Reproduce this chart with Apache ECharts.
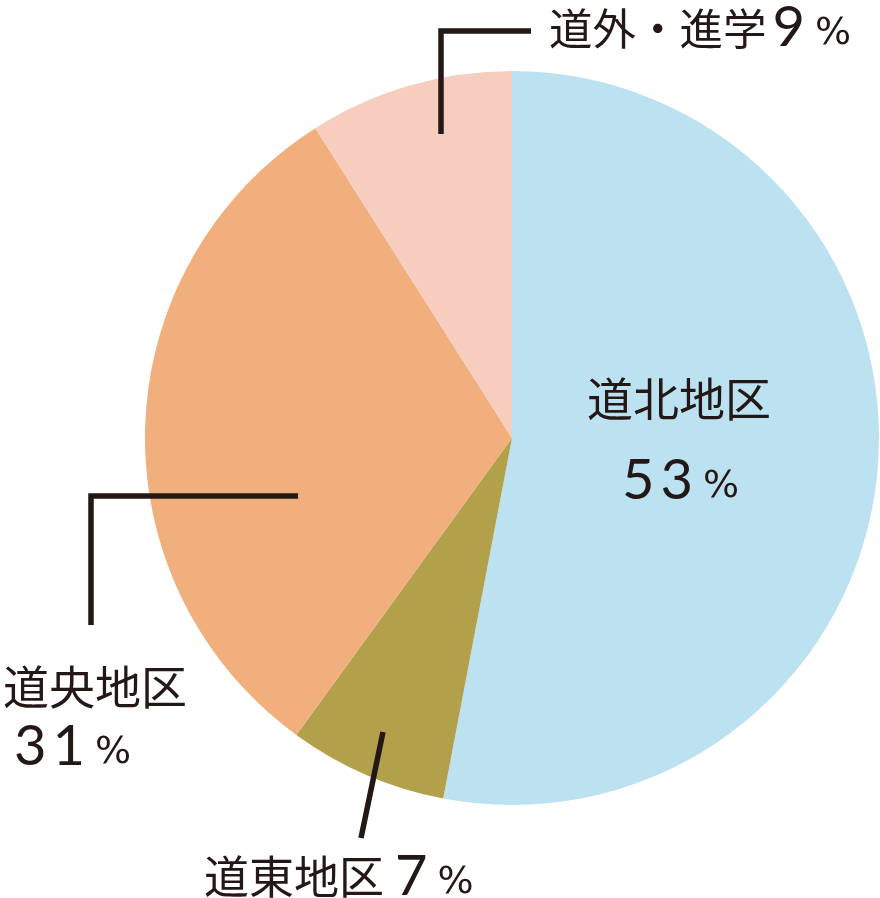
<!DOCTYPE html>
<html>
<head>
<meta charset="utf-8">
<script src="https://cdn.jsdelivr.net/npm/echarts@6/dist/echarts.min.js"></script>
<style>
html,body{margin:0;padding:0;background:#fff;}
#chart{width:880px;height:898px;}
</style>
</head>
<body>
<div id="chart"></div>
<script>
// ---- data ----
const categories = ['道北地区', '道東地区', '道央地区', '道外・進学'];
const values = [53, 7, 31, 9];
const sliceColors = ['#BCE2F2', '#B3A04B', '#F2AF7E', '#F7CDBF'];

const TEXT = '#231815';
const CJK = '"Noto Sans CJK JP", sans-serif';
const NUM = 'Lato, "Noto Sans", sans-serif';
const PCT = '"DejaVu Sans", sans-serif';

const chart = echarts.init(document.getElementById('chart'), null, {renderer: 'canvas'});

// label placement (annotation layout), per data index
const labelPlace = [
  {x: 679, y: 440, align: 'center', line: null, pos: 'inside', lh: 82, fs: 46, gap: 3},
  {x: 204, y: 877, align: 'left', line: [[383, 732], [372, 785], [361, 838]], pos: 'outside', lh: 70, fs: 45, gap: 8},
  {x: 3, y: 717, align: 'left', line: [[298, 496], [91, 496], [91, 625]], pos: 'outside', lh: 60, fs: 46, gap: 3},
  {x: 549, y: 28, align: 'left', line: [[441, 134], [441, 31], [531, 31]], pos: 'outside', lh: 70, fs: 43.5, gap: 3}
];

function digits(v) {
  return String(v).split('').map(d => '{v|' + d + '}').join('');
}
function fmt(i) {
  const n = categories[i], v = values[i];
  if (i === 0) return '{n|' + n + '}\n' + digits(v) + '{p|%}';
  if (i === 2) return '{n|' + n + '}\n{s|}' + digits(v) + '{p|%}';
  return '{n|' + n + '}{g|}' + digits(v) + '{p|%}';
}
function richFor(i) {
  const lh = labelPlace[i].lh;
  return {
    n: {fontFamily: CJK, fontSize: labelPlace[i].fs, color: TEXT, lineHeight: lh},
    v: {fontFamily: NUM, fontSize: 56, color: TEXT, lineHeight: lh, padding: [0, 3, 0, 3]},
    p: {fontFamily: PCT, fontSize: 38, color: TEXT, lineHeight: lh, padding: [13, 0, 0, 7]},
    s: {width: 8, lineHeight: lh},
    g: {width: labelPlace[i].gap, lineHeight: lh}
  };
}

const option = {
  animation: false,
  backgroundColor: '#ffffff',
  series: [{
    type: 'pie',
    z: 2,
    center: [512, 438],
    radius: [0, 367],
    startAngle: 90,
    clockwise: true,
    silent: true,
    label: {show: false},
    labelLine: {show: false},
    data: categories.map((c, i) => ({
      name: c,
      value: values[i],
      itemStyle: {color: sliceColors[i]}
    }))
  }, {
    type: 'pie',
    z: 3,
    center: [512, 438],
    radius: [0, 367],
    startAngle: 90,
    clockwise: true,
    silent: true,
    itemStyle: {color: 'rgba(0,0,0,0)'},
    data: categories.map((c, i) => ({
      name: c,
      value: values[i],
      label: {
        show: true,
        position: labelPlace[i].pos,
        formatter: fmt(i),
        rich: richFor(i),
        align: labelPlace[i].align,
        width: i === 0 ? undefined : 400,
        overflow: 'none'
      },
      labelLine: {show: !!labelPlace[i].line, lineStyle: {color: TEXT, width: 5.5, cap: 'butt', join: 'miter'}}
    })),
    labelLine: {show: true, smooth: false},
    labelLayout: function (params) {
      const p = labelPlace[params.dataIndex];
      const r = {x: p.x, y: p.y, align: p.align, verticalAlign: 'middle', hideOverlap: false, moveOverlap: null};
      if (p.line) r.labelLinePoints = p.line;
      return r;
    }
  }]
};
chart.setOption(option);
</script>
</body>
</html>
